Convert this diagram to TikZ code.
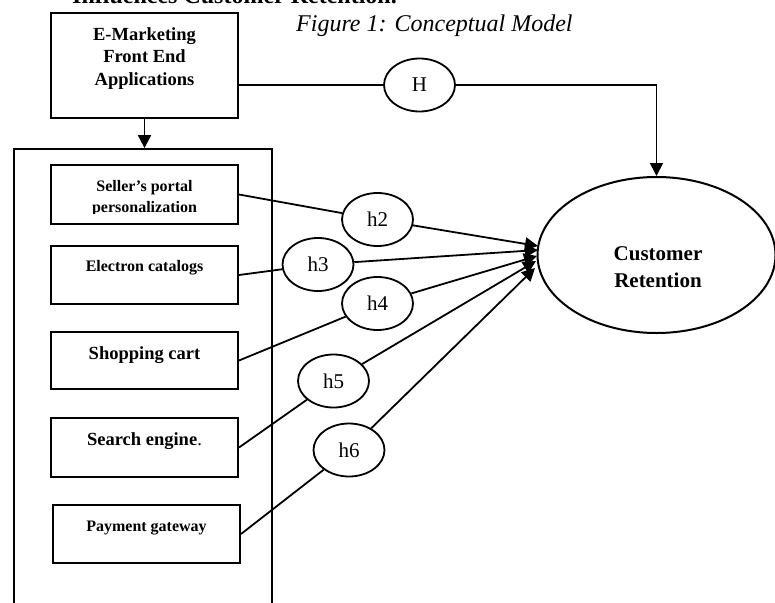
\documentclass[tikz,border=0pt]{standalone}
\usepackage{fontspec}
\setmainfont{Liberation Serif}
\usetikzlibrary{shapes.geometric,arrows.meta}
\begin{document}
\begin{tikzpicture}[x=1pt,y=-1pt,
  boxshape/.style={draw, line width=2pt, rectangle, minimum width=187pt, inner sep=0pt},
  txtA/.style={font=\fontsize{16}{21}\selectfont\bfseries, anchor=base, inner sep=0pt, align=center},
  txtB/.style={font=\fontsize{18.5}{22}\selectfont\bfseries, anchor=base, inner sep=0pt, align=center},
  hyp/.style={draw, ellipse, line width=1.8pt, minimum width=71pt, minimum height=53pt, inner sep=0pt, font=\fontsize{21}{24}\selectfont},
  conn/.style={line width=1.8pt},
  arr/.style={line width=1.8pt, -{Triangle[length=13pt,width=13pt]}}]
\clip (0,0) rectangle (775,602);
\useasboundingbox (0,0) rectangle (775,602);

% top texts
\node[font=\fontsize{24}{28}\selectfont\bfseries, anchor=base west, inner sep=0pt] (toptxt) at (72,4) {Influences Customer Retention.};
\node[font=\fontsize{24}{28}\selectfont\itshape, anchor=base west, inner sep=0pt] (cap) at (296,31) {Figure 1: Conceptual Model};

% E-Marketing box
\node[boxshape, minimum height=105pt] (emk) at (144.5,65.5) {};
\node[txtB] (emkt1) at (144.5,41) {E-Marketing};
\node[txtB] (emkt2) at (144.5,63) {Front End};
\node[txtB] (emkt3) at (144.5,85) {Applications};

% outer container
\node[draw, line width=1.8pt, rectangle, minimum width=258pt, minimum height=470pt, inner sep=0pt] (outer) at (143,384) {};
\draw[arr] (emk.south) -- (emk.south |- outer.north);

% inner boxes
\node[boxshape, minimum height=59pt] (seller) at (144.5,194.5) {};
\node[txtA] (sellert1) at (144.5,191) {Seller’s portal};
\begin{scope}
\clip (51,150) rectangle (238,213.5);
\node[txtA] (sellert2) at (144.5,212) {personalization};
\end{scope}
\node[boxshape, minimum height=58pt] (elec) at (144.5,275) {};
\node[txtA] (elect) at (144.5,271) {Electron catalogs};
\node[boxshape, minimum height=57pt] (shop) at (144.5,360.5) {};
\node[txtB] (shopt) at (144.5,359) {Shopping cart};
\node[boxshape, minimum height=59pt] (search) at (144.5,447.5) {};
\node[txtB] (searcht) at (144.5,445) {Search engine\textmd{.}};
\node[boxshape, minimum height=58pt] (pay) at (146.5,534) {};
\node[txtA] (payt) at (146.5,531) {Payment gateway};

% customer retention
\node[draw, ellipse, line width=2pt, minimum width=238pt, minimum height=156pt, inner sep=0pt] (cr) at (656.5,255) {};
\node[font=\fontsize{21}{27}\selectfont\bfseries, anchor=base, inner sep=0pt] (crt1) at (658,260) {Customer};
\node[font=\fontsize{21}{27}\selectfont\bfseries, anchor=base, inner sep=0pt] (crt2) at (658,287) {Retention};

% hypotheses
\node[hyp] (H) at (419.5,85) {H};
\node[hyp] (h2) at (377.5,219.5) {h2};
\node[hyp] (h3) at (318,264.5) {h3};
\node[hyp] (h4) at (377.5,303.5) {h4};
\node[hyp] (h5) at (333.5,381) {h5};
\node[hyp] (h6) at (349,450) {h6};

\coordinate (t2) at (538,246);
\coordinate (t3) at (538,250);
\coordinate (t4) at (537,256);
\coordinate (t5) at (536,261);
\coordinate (t6) at (535,268);

\draw[conn] (H.west -| emk.east) -- (H.west);
\draw[arr] (H.east) -| (cr.north);

\draw[conn] (seller.east) -- (h2);
\draw[conn] (elec.east) -- (h3);
\draw[conn] (shop.east) -- (h4);
\draw[conn] (search.east) -- (h5);
\draw[conn] (pay.east) -- (h6);

\draw[arr] (h2) -- (t2);
\draw[arr] (h3) -- (t3);
\draw[arr] (h4) -- (t4);
\draw[arr] (h5) -- (t5);
\draw[arr] (h6) -- (t6);
\end{tikzpicture}
\end{document}
